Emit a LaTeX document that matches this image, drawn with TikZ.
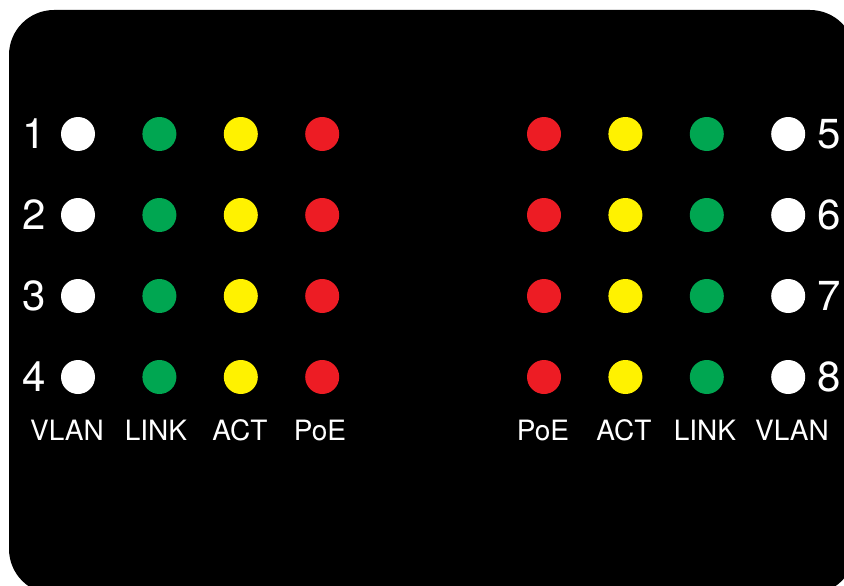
\documentclass[tikz,border=0pt]{standalone}
\usepackage{fontspec}
\setmainfont{TeX Gyre Heros}
\usetikzlibrary{positioning}
\definecolor{Panel}{HTML}{000000}
\definecolor{LedWhite}{HTML}{FFFFFF}
\definecolor{LedGreen}{HTML}{00A651}
\definecolor{LedYellow}{HTML}{FFF200}
\definecolor{LedRed}{HTML}{ED1C24}
\tikzset{
  led/.style={circle,fill=#1,minimum size=34pt,inner sep=0pt},
  num/.style={text=white,font=\fontsize{42}{42}\selectfont,inner sep=0pt},
  lbl/.style={text=white,font=\fontsize{28}{28}\selectfont,inner sep=0pt,anchor=base}
}
\begin{document}
\begin{tikzpicture}[x=1pt,y=-1pt,node distance=47pt]
  \useasboundingbox (0,0) rectangle (844,586);
  \fill[Panel,rounded corners=45pt] (9,10) rectangle (855,594);
  % left ports 1-4, right ports 5-8
  \foreach \r/\y/\m in {1/134/5, 2/215/6, 3/296/7, 4/377/8} {
    \node[led=LedWhite] (lv\r) at (78,\y) {};
    \node[led=LedGreen,right=of lv\r] (lk\r) {};
    \node[led=LedYellow,right=of lk\r] (la\r) {};
    \node[led=LedRed,right=of la\r] (lp\r) {};
    \node[num,left=15pt of lv\r] (ln\r) {\r};
    \node[led=LedRed] (rp\r) at (544,\y) {};
    \node[led=LedYellow,right=of rp\r] (ra\r) {};
    \node[led=LedGreen,right=of ra\r] (rk\r) {};
    \node[led=LedWhite,right=of rk\r] (rv\r) {};
    \node[num,right=12pt of rv\r] (rn\r) {\m};
  }
  \node[lbl] (tlv) at (67,440) {VLAN};
  \node[lbl] (tlk) at (156,440) {LINK};
  \node[lbl] (tla) at (240,440) {ACT};
  \node[lbl] (tlp) at (320,440) {PoE};
  \node[lbl] (trp) at (543,440) {PoE};
  \node[lbl] (tra) at (624,440) {ACT};
  \node[lbl] (trk) at (705,440) {LINK};
  \node[lbl] (trv) at (792,440) {VLAN};
\end{tikzpicture}
\end{document}
